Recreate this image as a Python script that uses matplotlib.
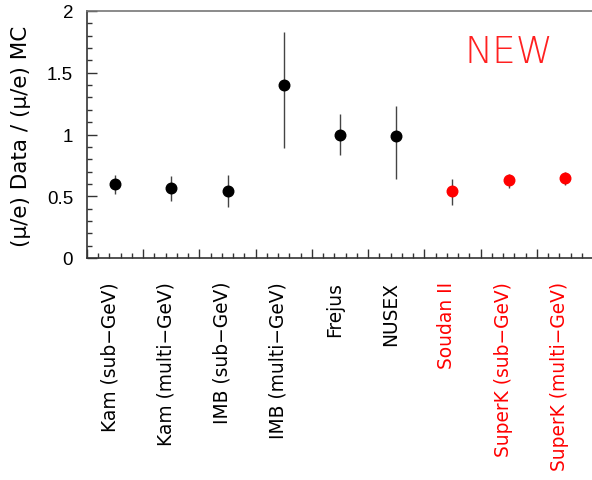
import matplotlib
matplotlib.use("Agg")
import matplotlib.pyplot as plt
from matplotlib.ticker import MultipleLocator, NullFormatter
import numpy as np

experiments = ["Kam (sub\u2212GeV)", "Kam (multi\u2212GeV)", "IMB (sub\u2212GeV)",
               "IMB (multi\u2212GeV)", "Frejus", "NUSEX", "Soudan II",
               "SuperK (sub\u2212GeV)", "SuperK (multi\u2212GeV)"]
ratio = [0.60, 0.57, 0.54, 1.40, 1.00, 0.99, 0.54, 0.63, 0.65]
err_up = [0.07, 0.09, 0.13, 0.43, 0.17, 0.24, 0.10, 0.05, 0.045]
err_down = [0.08, 0.11, 0.13, 0.51, 0.17, 0.35, 0.11, 0.06, 0.06]
is_new = [False, False, False, False, False, False, True, True, True]

W, H = 592, 481
fig = plt.figure(figsize=(W / 100, H / 100), dpi=100)
ax = fig.add_axes([87 / W, (H - 259) / H, (593 - 87) / W, (259 - 12) / H])

xpos = np.arange(len(experiments)) + 0.5
for x, y, eu, ed, new, lab in zip(xpos, ratio, err_up, err_down, is_new, experiments):
    col = "#ff0000" if new else "black"
    ax.errorbar([x], [y], yerr=[[ed], [eu]], fmt="o", color=col, ms=7.6,
                ecolor="#444444", elinewidth=1.0, capsize=0, mec=col, zorder=3)
    ax.text(x, -0.093, lab, transform=ax.get_xaxis_transform(), rotation=90,
            rotation_mode="anchor", ha="right", va="baseline", color=col,
            fontsize=13.4, family="DejaVu Sans")

ax.set_xlim(0, 9)
ax.set_ylim(0, 2)
ax.xaxis.set_major_locator(MultipleLocator(1))
ax.xaxis.set_minor_locator(MultipleLocator(0.2))
ax.xaxis.set_major_formatter(NullFormatter())
ax.yaxis.set_major_locator(MultipleLocator(0.5))
ax.yaxis.set_minor_locator(MultipleLocator(0.1))
ax.set_yticks([0, 0.5, 1, 1.5, 2])
ax.set_yticklabels(["0", "0.5", "1", "1.5", "2"], family="Liberation Sans", fontsize=13.5)
ax.tick_params(axis="both", which="both", direction="in", top=False, right=False,
               color="#333333", width=1)
ax.tick_params(axis="y", which="major", length=7, pad=10)
ax.tick_params(axis="y", which="minor", length=3.5)
ax.tick_params(axis="x", which="major", length=6.5)
ax.tick_params(axis="x", which="minor", length=3.5)

for s in ["left", "bottom"]:
    ax.spines[s].set_color("#333333")
ax.spines["top"].set_color("#777777")
ax.spines["right"].set_visible(False)
for s in ax.spines.values():
    s.set_linewidth(1.2)

ax.set_ylabel("(\u03bc/e) Data / (\u03bc/e) MC", fontsize=15.5, family="DejaVu Sans")
ax.yaxis.set_label_coords(-0.11, 0.495)

ax.text(0.746, 0.793, "NEW", transform=ax.transAxes, color="#ff2020", fontsize=27,
        family="DejaVu Sans", fontweight="light", ha="left", va="baseline")

fig.savefig("out.png", dpi=100)
